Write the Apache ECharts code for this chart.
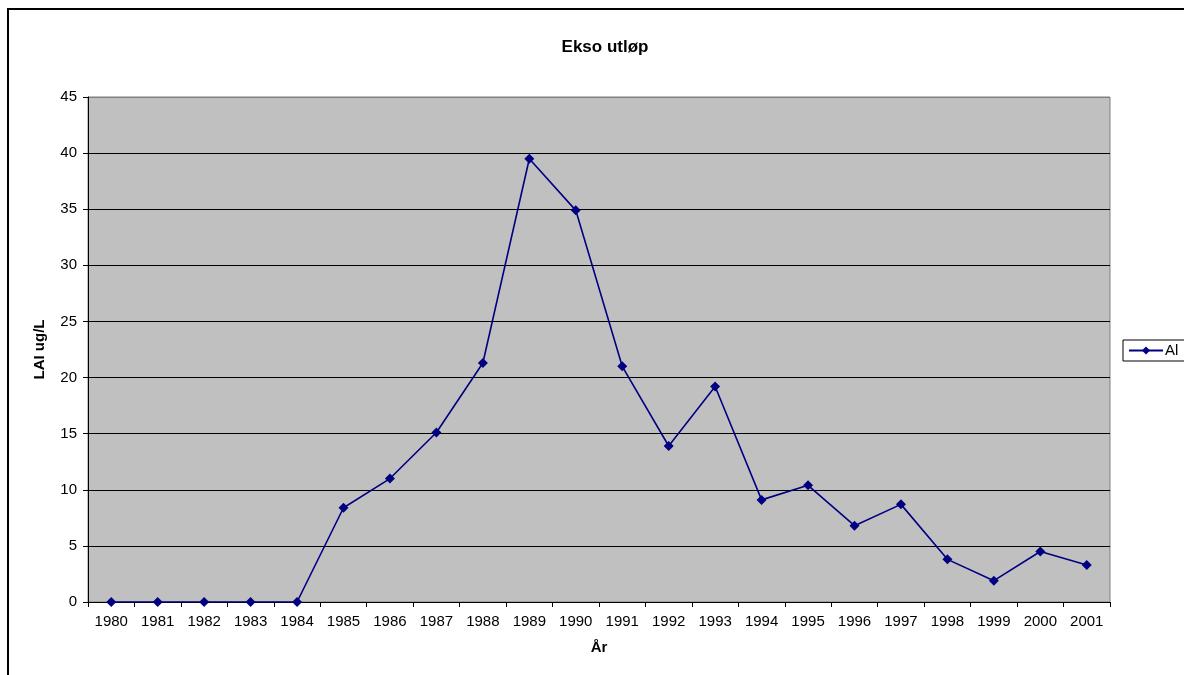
<!DOCTYPE html>
<html>
<head>
<meta charset="utf-8">
<script src="https://cdn.jsdelivr.net/npm/echarts@6/dist/echarts.min.js"></script>
<style>
  html, body { margin: 0; padding: 0; background: #fff; }
  #chart { width: 1184px; height: 675px; }
</style>
</head>
<body>
<div id="chart"></div>
<script>
const years = ['1980', '1981', '1982', '1983', '1984', '1985', '1986', '1987', '1988', '1989', '1990',
  '1991', '1992', '1993', '1994', '1995', '1996', '1997', '1998', '1999', '2000', '2001'];
const alValues = [0, 0, 0, 0, 0, 8.4, 11.0, 15.1, 21.3, 39.5, 34.9,
  21.0, 13.9, 19.2, 9.1, 10.4, 6.8, 8.7, 3.8, 1.9, 4.5, 3.3];

const font = 'Liberation Sans, Arial, sans-serif';

const chart = echarts.init(document.getElementById('chart'));

const option = {
  backgroundColor: '#fff',
  animation: false,
  textStyle: { fontFamily: font },
  graphic: [
    {
      type: 'rect',
      shape: { x: 8, y: 9, width: 1300, height: 800 },
      style: { fill: 'none', stroke: '#000', lineWidth: 2 },
      z: 0,
    },
  ],
  title: {
    text: 'Ekso utløp',
    left: 600,
    textAlign: 'center',
    top: 34,
    textStyle: { fontFamily: font, fontSize: 17, fontWeight: 'bold', color: '#000' },
  },
  legend: {
    data: ['Al'],
    left: 1123,
    top: 340,
    orient: 'vertical',
    borderColor: '#000',
    borderWidth: 1,
    padding: [3, 40, 3, 5],
    itemWidth: 34,
    itemHeight: 10,
    itemGap: 0,
    textStyle: { fontFamily: font, fontSize: 15, color: '#000', padding: [0, 0, 0, -3] },
  },
  grid: {
    left: 88,
    top: 97,
    right: 74,
    bottom: 73,
    show: true,
    backgroundColor: '#c0c0c0',
    borderColor: '#808080',
    borderWidth: 1,
    containLabel: false,
  },
  xAxis: {
    type: 'category',
    data: years,
    boundaryGap: true,
    name: 'År',
    nameLocation: 'middle',
    nameGap: 38,
    nameTextStyle: { fontFamily: font, fontSize: 15, fontWeight: 'bold', color: '#000' },
    axisLine: { lineStyle: { color: '#000', width: 1 } },
    axisTick: { show: true, length: 5, alignWithLabel: false, lineStyle: { color: '#000' } },
    axisLabel: { interval: 0, margin: 12, fontFamily: font, fontSize: 15, color: '#000' },
    splitLine: { show: false },
  },
  yAxis: {
    type: 'value',
    min: 0,
    max: 45,
    interval: 5,
    name: 'LAI ug/L',
    nameLocation: 'middle',
    nameRotate: 90,
    nameGap: 41,
    nameTextStyle: { fontFamily: font, fontSize: 15, fontWeight: 'bold', color: '#000' },
    axisLine: { show: true, lineStyle: { color: '#000', width: 1 } },
    axisTick: { show: true, length: 5, lineStyle: { color: '#000' } },
    axisLabel: { margin: 11, fontFamily: font, fontSize: 15, color: '#000' },
    splitLine: {
      show: true,
      lineStyle: {
        color: ['#000', '#000', '#000', '#000', '#000', '#000', '#000', '#000', '#000', '#808080'],
        width: 1,
      },
    },
  },
  series: [
    {
      name: 'Al',
      type: 'line',
      data: alValues,
      symbol: 'diamond',
      symbolSize: 10,
      showAllSymbol: true,
      itemStyle: { color: '#000080' },
      lineStyle: { color: '#000080', width: 1.6 },
    },
  ],
};

chart.setOption(option);
</script>
</body>
</html>
